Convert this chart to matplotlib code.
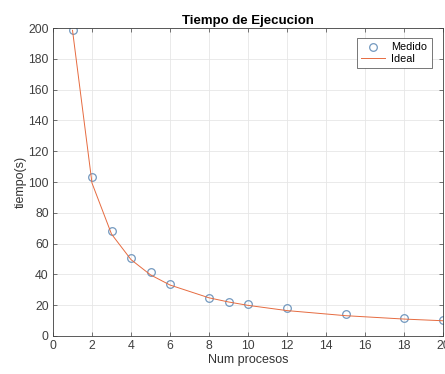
import numpy as np
import matplotlib.pyplot as plt

plt.rcParams['font.family'] = ['Liberation Sans', 'DejaVu Sans']

procesos = [1, 2, 3, 4, 5, 6, 8, 9, 10, 12, 15, 18, 20]
medido = [198.5, 103, 68.5, 50.5, 41.5, 34, 25, 22, 20.5, 18, 14, 11.5, 10.5]
ideal = [198.5, 99.3, 66.2, 49.6, 39.7, 33.1, 24.8, 22.1, 19.9, 16.5, 13.2, 11.0, 9.9]

fig = plt.figure(figsize=(4.45, 3.74), dpi=100)
ax = fig.add_axes([53/445, 1 - 336/374, 390/445, 308/374])

ax.plot(procesos, medido, 'o', mfc='none', mec=(0.45, 0.6, 0.75), ms=5.5, mew=0.9,
        label='Medido')
ax.plot(procesos, ideal, '-', color=(0.9, 0.42, 0.25), lw=0.7, label='Ideal')

ax.set_xlim(0, 20)
ax.set_ylim(0, 200)
ax.set_xticks(np.arange(0, 21, 2))
ax.set_yticks(np.arange(0, 201, 20))
ax.grid(True, color='#e6e6e6', lw=0.6)
ax.set_axisbelow(True)
ax.tick_params(direction='in', top=True, right=True, labelsize=8.8,
               colors='#404040', length=3, width=0.5, pad=3)
for s in ax.spines.values():
    s.set_color('#404040')
    s.set_linewidth(0.6)

ax.set_title('Tiempo de Ejecucion', fontsize=9.5, fontweight='bold', pad=3)
ax.set_xlabel('Num procesos', fontsize=9, labelpad=1, color='#333333')
ax.set_ylabel('tiempo(s)', fontsize=9, labelpad=1, color='#333333')

leg = ax.legend(loc='upper right', fontsize=7.8, fancybox=False, framealpha=1,
                edgecolor='#404040', handlelength=2.2, borderpad=0.4,
                labelspacing=0.15, handletextpad=0.6,
                bbox_to_anchor=(0.985, 0.985))
leg.get_frame().set_linewidth(0.5)

fig.savefig('out.png', dpi=100)
